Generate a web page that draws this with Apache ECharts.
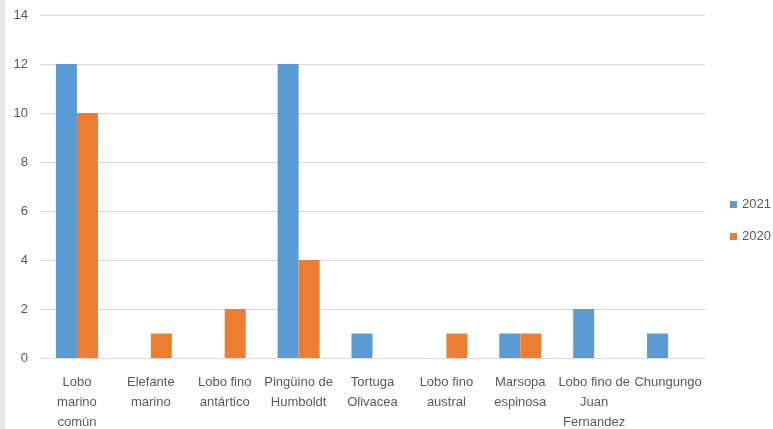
<!DOCTYPE html>
<html>
<head>
<meta charset="utf-8">
<script src="https://cdn.jsdelivr.net/npm/echarts@6/dist/echarts.min.js"></script>
<style>
  html, body { margin: 0; padding: 0; background: #fff; }
  #chart { width: 773px; height: 429px; }
</style>
</head>
<body>
<div id="chart"></div>
<script>
// categories and values
var categories = [
    'Lobo\nmarino\ncomún', 'Elefante\nmarino', 'Lobo fino\nantártico',
    'Pingüino de\nHumboldt', 'Tortuga\nOlivacea', 'Lobo fino\naustral',
    'Marsopa\nespinosa', 'Lobo fino de\nJuan\nFernandez', 'Chungungo'
];
var values2021 = [12, 0, 0, 12, 1, 0, 1, 2, 1];
var values2020 = [10, 1, 2, 4, 0, 1, 1, 0, 0];

var font = '"Liberation Sans", sans-serif';
var chart = echarts.init(document.getElementById('chart'));

chart.setOption({
    animation: false,
    textStyle: { fontFamily: font },
    graphic: [{
        type: 'rect',
        shape: { x: 0, y: 0, width: 5, height: 429 },
        style: { fill: '#e6e6e6' }
    }],
    legend: {
        orient: 'vertical',
        left: 730,
        top: 198,
        padding: 0,
        itemWidth: 7,
        itemHeight: 7,
        itemGap: 19,
        icon: 'rect',
        textStyle: { color: '#595959', fontSize: 13, fontFamily: font },
        data: ['2021', '2020']
    },
    grid: {
        left: 40, right: 68, top: 15, bottom: 71,
        containLabel: false, outerBoundsMode: 'none'
    },
    xAxis: {
        type: 'category',
        data: categories,
        axisLine: { lineStyle: { color: '#d9d9d9' } },
        axisTick: { show: false },
        axisLabel: {
            color: '#595959', fontSize: 13, lineHeight: 20, margin: 14,
            interval: 0, fontFamily: font
        }
    },
    yAxis: {
        type: 'value',
        min: 0,
        max: 14,
        interval: 2,
        axisLine: { show: false },
        axisTick: { show: false },
        axisLabel: { color: '#595959', fontSize: 13, margin: 12, fontFamily: font },
        splitLine: { lineStyle: { color: '#d9d9d9' } }
    },
    series: [
        {
            name: '2021', type: 'bar', data: values2021,
            barWidth: 21, barGap: '0%',
            itemStyle: { color: '#5b9bd5' }
        },
        {
            name: '2020', type: 'bar', data: values2020,
            barWidth: 21, barGap: '0%',
            itemStyle: { color: '#ed7d31' }
        }
    ]
});
</script>
</body>
</html>
